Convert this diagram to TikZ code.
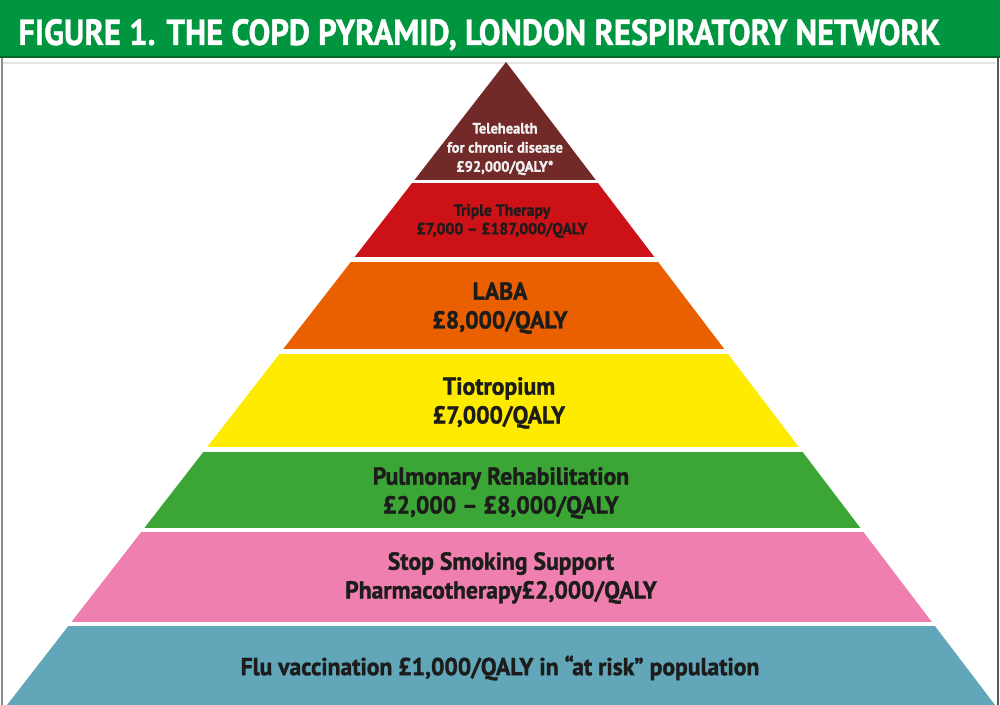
\documentclass[tikz,border=0pt]{standalone}
\usepackage{fontspec}
\usepackage{graphicx}
\setmainfont{PT Sans}[BoldFeatures={FakeBold=1.2}]
\newfontfamily\pyrfont{PT Sans}[FakeStretch=0.96, BoldFeatures={FakeBold=1.3}]
\usetikzlibrary{positioning}
\definecolor{headGreen}{RGB}{0, 150, 64}
\definecolor{headEdge}{RGB}{0, 105, 42}
\definecolor{teleBrown}{RGB}{114, 42, 40}
\definecolor{tripleRed}{RGB}{204, 17, 23}
\definecolor{labaOrange}{RGB}{234, 96, 0}
\definecolor{tioYellow}{RGB}{255, 235, 0}
\definecolor{pulmGreen}{RGB}{59, 165, 53}
\definecolor{smokePink}{RGB}{238, 127, 174}
\definecolor{fluBlue}{RGB}{98, 166, 185}
\definecolor{ink}{RGB}{28, 28, 27}

\begin{document}
\begin{tikzpicture}[x=0.02cm, y=-0.02cm,
    lbl/.style={align=center, inner sep=0pt, text=ink, font=\pyrfont\bfseries\fontsize{14}{16.4}\selectfont},
    smalllbl/.style={lbl, font=\pyrfont\bfseries\fontsize{9.3}{10.6}\selectfont}]
    \useasboundingbox (0,0) rectangle (1000,705);

    % header bar
    \fill[headGreen] (0,0) rectangle (1000,57);
    \draw[headEdge, line width=1.2pt] (0,57) -- (1000,57);
    \node[anchor=base west, inner sep=0pt, text=white] (title) at (18,45)
        {\resizebox{18.44cm}{0.52cm}{\bfseries FIGURE 1. THE COPD PYRAMID, LONDON RESPIRATORY NETWORK}};

    % frame
    \draw[black!45, line width=0.8pt] (2,58) -- (2,705);
    \draw[black!65, line width=1.2pt] (998,58) -- (998,705);
    \draw[black!10, line width=0.6pt] (3,63) -- (996,63);

    % pyramid bands
    \coordinate (apex) at (506,62);
    \coordinate (baseL) at (7,705);
    \coordinate (baseR) at (995,705);
    \begin{scope}
        \clip (apex) -- (baseR) -- (baseL) -- cycle;
        \fill[teleBrown] (0,60) rectangle (1000,180);
        \fill[tripleRed] (0,183) rectangle (1000,257);
        \fill[labaOrange] (0,262) rectangle (1000,349);
        \fill[tioYellow] (0,354) rectangle (1000,447);
        \fill[pulmGreen] (0,452) rectangle (1000,528);
        \fill[smokePink] (0,532) rectangle (1000,622);
        \fill[fluBlue] (0,626) rectangle (1000,706);
    \end{scope}

    % labels
    \node[smalllbl, text=white!94!black, font=\pyrfont\bfseries\fontsize{8.6}{10.9}\selectfont] (tele) at (505,149)
        {Telehealth\\for chronic disease\\£92,000/QALY*};
    \node[smalllbl] (triple) at (502,221) {Triple Therapy\\£7,000 – £187,000/QALY};
    \node[lbl] (laba) at (500,308) {LABA\\£8,000/QALY};
    \node[lbl] (tio) at (499,403) {Tiotropium\\£7,000/QALY};
    \node[lbl] (pulm) at (501,493) {Pulmonary Rehabilitation\\£2,000 – £8,000/QALY};
    \node[lbl] (smoke) at (501,578) {Stop Smoking Support\\Pharmacotherapy£2,000/QALY};
    \node[lbl] (flu) at (500,668) {Flu vaccination £1,000/QALY in “at risk” population};
\end{tikzpicture}
\end{document}
